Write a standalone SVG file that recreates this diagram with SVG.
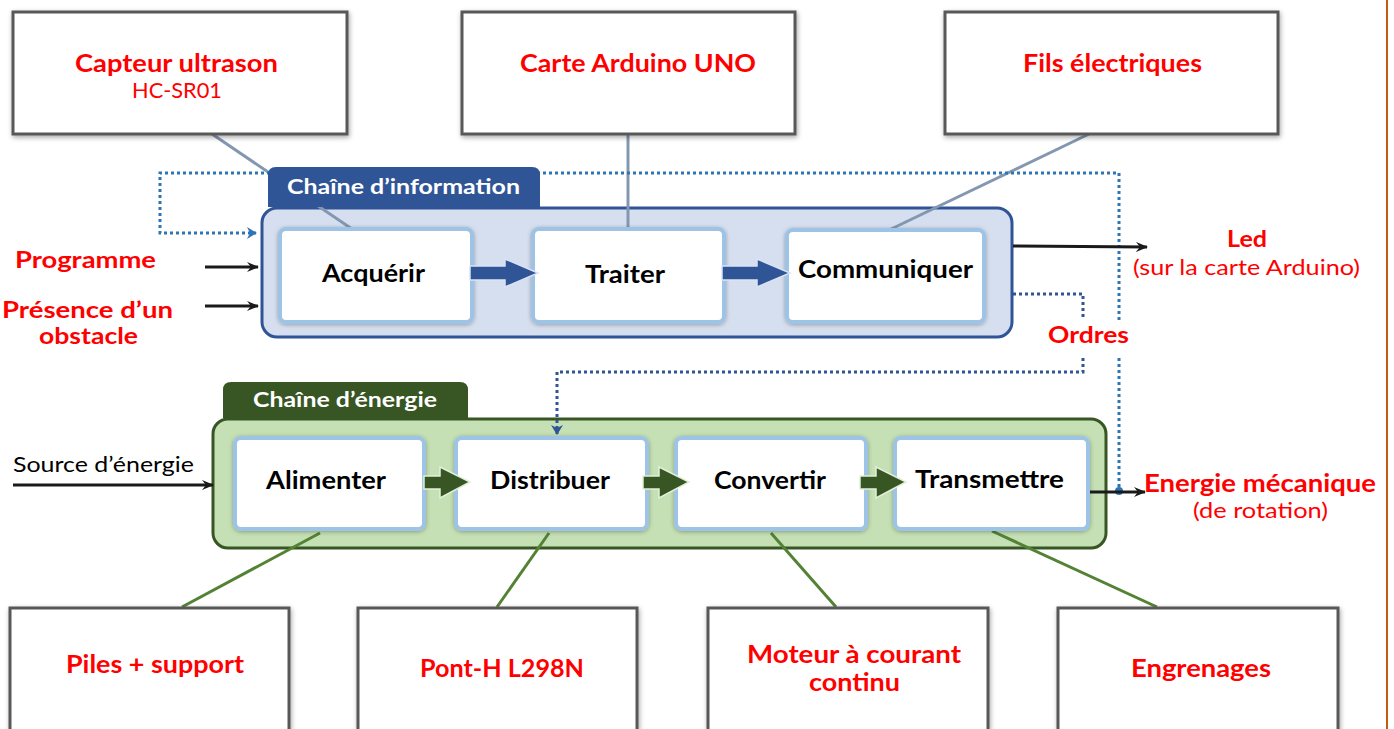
<svg xmlns="http://www.w3.org/2000/svg" width="1394" height="729" viewBox="0 0 1394 729">
  <style>
    .ext { fill: #ffffff; stroke: #595959; stroke-width: 3; filter: url(#shadow); }
    .inner { fill: #ffffff; stroke: #9DC3E6; stroke-width: 4; filter: url(#soft); }
    .red-b { font-family: Lato, "Liberation Sans", sans-serif; font-weight: bold; fill: #FF0000; }
    .red-r { font-family: Lato, "Liberation Sans", sans-serif; fill: #FF0000; }
    .blk-b { font-family: Lato, "Liberation Sans", sans-serif; font-weight: bold; fill: #000000; }
    .blk-r { font-family: Lato, "Liberation Sans", sans-serif; fill: #000000; }
    .tab-t { font-family: Lato, "Liberation Sans", sans-serif; font-weight: bold; fill: #ffffff; }
    .link-info { stroke: #8497B0; stroke-width: 3; fill: none; }
    .link-nrj { stroke: #548235; stroke-width: 3; fill: none; }
    .feed { stroke: #2E75B6; stroke-width: 3; fill: none; stroke-dasharray: 3 3; }
    .order { stroke: #2F5597; stroke-width: 3; fill: none; stroke-dasharray: 3 3; }
    .flow { stroke: #1a1a1a; stroke-width: 3; fill: none; marker-end: url(#blackHead); }
    .barrow { fill: #2F5597; stroke: #DAE3F3; stroke-width: 1.5; }
    .garrow { fill: #375623; stroke: #E2F0D9; stroke-width: 1.5; }
  </style>
  <defs>
    <filter id="shadow" x="-10%" y="-10%" width="120%" height="130%">
      <feDropShadow dx="1" dy="2" stdDeviation="2.5" flood-color="#000" flood-opacity="0.35"/>
    </filter>
    <filter id="soft" x="-10%" y="-10%" width="120%" height="130%">
      <feDropShadow dx="0" dy="1" stdDeviation="2" flood-color="#000" flood-opacity="0.3"/>
    </filter>
    <marker id="blackHead" viewBox="0 0 12 10" refX="11" refY="5" markerWidth="12" markerHeight="10" markerUnits="userSpaceOnUse" orient="auto">
      <path d="M0,0 L12,5 L0,10 L4,5 z" fill="#1a1a1a"/>
    </marker>
    <marker id="feedHead" viewBox="0 0 10 12" refX="9" refY="6" markerWidth="10" markerHeight="12" markerUnits="userSpaceOnUse" orient="auto">
      <path d="M0,0 L10,6 L0,12 L3,6 z" fill="#2E75B6"/>
    </marker>
    <marker id="orderHead" viewBox="0 0 10 12" refX="9" refY="6" markerWidth="10" markerHeight="12" markerUnits="userSpaceOnUse" orient="auto">
      <path d="M0,0 L10,6 L0,12 L3,6 z" fill="#2F5597"/>
    </marker>
  </defs>

  <rect width="1394" height="729" fill="#ffffff"/>
  <!-- page margin rule -->
  <line x1="1387" y1="0" x2="1387" y2="729" stroke="#C55A11" stroke-width="2"/>

  <!-- chain frames -->
  <g id="chaine-information">
    <rect x="262" y="208" width="750" height="129" rx="15" fill="#D6DFEF" stroke="#2F5597" stroke-width="3"/>
  </g>
  <g id="chaine-energie">
    <rect x="213" y="419" width="893" height="129" rx="15" fill="#C5E0B4" stroke="#375623" stroke-width="3"/>
  </g>

  <!-- links, loops and flows -->
  <g id="connectors">
    <line class="link-info" x1="212" y1="134" x2="355" y2="231"/>
    <line class="link-info" x1="628" y1="134" x2="628" y2="231"/>
    <line class="link-info" x1="1089" y1="134" x2="887" y2="231"/>
    <line class="link-nrj" x1="320" y1="533" x2="182" y2="607"/>
    <line class="link-nrj" x1="549" y1="533" x2="497" y2="607"/>
    <line class="link-nrj" x1="771" y1="533" x2="836" y2="607"/>
    <line class="link-nrj" x1="992" y1="531" x2="1157" y2="607"/>

    <!-- feedback loop -->
    <polyline class="feed" points="1119,320 1119,173 160,173 160,233 256,233" marker-end="url(#feedHead)"/>
    <line class="feed" x1="1119" y1="358" x2="1119" y2="490"/>
    <circle cx="1119" cy="491" r="4" fill="#2E75B6"/>

    <!-- orders to the energy chain -->
    <polyline class="order" points="1013,294 1083,294 1083,320"/>
    <polyline class="order" points="1083,358 1083,372 557,372 557,434" marker-end="url(#orderHead)"/>

    <!-- inputs and outputs -->
    <line class="flow" x1="205" y1="267" x2="258" y2="267"/>
    <line class="flow" x1="205" y1="306" x2="258" y2="306"/>
    <line class="flow" x1="1013" y1="246" x2="1147" y2="247"/>
    <line class="flow" x1="13" y1="485" x2="213" y2="485"/>
    <line class="flow" x1="1090" y1="492" x2="1145" y2="492"/>
  </g>

  <!-- chain title tabs -->
  <g id="tab-information">
    <path d="M268,207 L268,175 Q268,167 276,167 L532,167 Q540,167 540,175 L540,207 Z" fill="#2F5597"/>
    <text class="tab-t" x="287" y="194" font-size="21" textLength="233" lengthAdjust="spacingAndGlyphs">Chaîne d’information</text>
  </g>
  <g id="tab-energie">
    <path d="M223,418 L223,390 Q223,382 231,382 L460,382 Q468,382 468,390 L468,418 Z" fill="#375623"/>
    <text class="tab-t" x="253" y="407" font-size="21" textLength="184" lengthAdjust="spacingAndGlyphs">Chaîne d’énergie</text>
  </g>

  <!-- component boxes, top row -->
  <g id="capteur">
    <rect class="ext" x="13" y="12" width="334" height="122"/>
    <text class="red-b" x="75" y="72" font-size="25" textLength="203" lengthAdjust="spacingAndGlyphs">Capteur ultrason</text>
    <text class="red-r" x="132" y="98" font-size="21" textLength="90" lengthAdjust="spacingAndGlyphs">HC-SR01</text>
  </g>
  <g id="arduino">
    <rect class="ext" x="462" y="12" width="333" height="122"/>
    <text class="red-b" x="520" y="72" font-size="25" textLength="236" lengthAdjust="spacingAndGlyphs">Carte Arduino UNO</text>
  </g>
  <g id="fils">
    <rect class="ext" x="945" y="12" width="333" height="122"/>
    <text class="red-b" x="1023" y="72" font-size="25" textLength="179" lengthAdjust="spacingAndGlyphs">Fils électriques</text>
  </g>

  <!-- information chain functions -->
  <g id="acquerir">
    <rect class="inner" x="280" y="229" width="192" height="93" rx="6"/>
    <text class="blk-b" x="322" y="282" font-size="24" textLength="103" lengthAdjust="spacingAndGlyphs">Acquérir</text>
  </g>
  <g id="traiter">
    <rect class="inner" x="533" y="229" width="191" height="93" rx="6"/>
    <text class="blk-b" x="585" y="283" font-size="24" textLength="80" lengthAdjust="spacingAndGlyphs">Traiter</text>
  </g>
  <g id="communiquer">
    <rect class="inner" x="787" y="230" width="197" height="92" rx="6"/>
    <text class="blk-b" x="798" y="278" font-size="24" textLength="175" lengthAdjust="spacingAndGlyphs">Communiquer</text>
  </g>
  <g id="info-arrows">
    <polygon class="barrow" points="470,266 505,266 505,259 538,273 505,287 505,280 470,280"/>
    <polygon class="barrow" points="722,266 757,266 757,259 790,273 757,287 757,280 722,280"/>
  </g>

  <!-- energy chain functions -->
  <g id="alimenter">
    <rect class="inner" x="235" y="438" width="189" height="91" rx="6"/>
    <text class="blk-b" x="266" y="489" font-size="24" textLength="120" lengthAdjust="spacingAndGlyphs">Alimenter</text>
  </g>
  <g id="distribuer">
    <rect class="inner" x="456" y="438" width="191" height="91" rx="6"/>
    <text class="blk-b" x="490" y="489" font-size="24" textLength="120" lengthAdjust="spacingAndGlyphs">Distribuer</text>
  </g>
  <g id="convertir">
    <rect class="inner" x="676" y="438" width="190" height="91" rx="6"/>
    <text class="blk-b" x="714" y="489" font-size="24" textLength="112" lengthAdjust="spacingAndGlyphs">Convertir</text>
  </g>
  <g id="transmettre">
    <rect class="inner" x="895" y="438" width="193" height="91" rx="6"/>
    <text class="blk-b" x="915" y="488" font-size="24" textLength="149" lengthAdjust="spacingAndGlyphs">Transmettre</text>
  </g>
  <g id="energy-arrows">
    <polygon class="garrow" points="424,476 440,476 440,467 470,482 440,498 440,489 424,489"/>
    <polygon class="garrow" points="643,476 659,476 659,467 689,482 659,498 659,489 643,489"/>
    <polygon class="garrow" points="860,476 876,476 876,467 906,482 876,498 876,489 860,489"/>
  </g>

  <!-- inputs / outputs labels -->
  <g id="programme">
    <text class="red-b" x="15" y="268" font-size="23" textLength="141" lengthAdjust="spacingAndGlyphs">Programme</text>
  </g>
  <g id="obstacle">
    <text class="red-b" x="2" y="318" font-size="22" textLength="171" lengthAdjust="spacingAndGlyphs">Présence d’un</text>
    <text class="red-b" x="39" y="344" font-size="22" textLength="99" lengthAdjust="spacingAndGlyphs">obstacle</text>
  </g>
  <g id="led">
    <text class="red-b" x="1227" y="247" font-size="23" textLength="40" lengthAdjust="spacingAndGlyphs">Led</text>
    <text class="red-r" x="1133" y="275" font-size="21" textLength="227" lengthAdjust="spacingAndGlyphs">(sur la carte Arduino)</text>
  </g>
  <g id="ordres">
    <text class="red-b" x="1048" y="343" font-size="23" textLength="81" lengthAdjust="spacingAndGlyphs">Ordres</text>
  </g>
  <g id="source">
    <text class="blk-r" x="13" y="472" font-size="21" textLength="181" lengthAdjust="spacingAndGlyphs">Source d’énergie</text>
  </g>
  <g id="energie-mecanique">
    <text class="red-b" x="1144" y="492" font-size="24" textLength="232" lengthAdjust="spacingAndGlyphs">Energie mécanique</text>
    <text class="red-r" x="1193" y="518" font-size="21" textLength="135" lengthAdjust="spacingAndGlyphs">(de rotation)</text>
  </g>

  <!-- component boxes, bottom row -->
  <g id="piles">
    <rect class="ext" x="10" y="608" width="279" height="140"/>
    <text class="red-b" x="66" y="673" font-size="25" textLength="178" lengthAdjust="spacingAndGlyphs">Piles + support</text>
  </g>
  <g id="pont-h">
    <rect class="ext" x="358" y="608" width="279" height="140"/>
    <text class="red-b" x="420" y="677" font-size="25" textLength="164" lengthAdjust="spacingAndGlyphs">Pont-H L298N</text>
  </g>
  <g id="moteur">
    <rect class="ext" x="708" y="608" width="280" height="140"/>
    <text class="red-b" x="747" y="663" font-size="24" textLength="214" lengthAdjust="spacingAndGlyphs">Moteur à courant</text>
    <text class="red-b" x="809" y="691" font-size="24" textLength="91" lengthAdjust="spacingAndGlyphs">continu</text>
  </g>
  <g id="engrenages">
    <rect class="ext" x="1058" y="608" width="280" height="140"/>
    <text class="red-b" x="1131" y="677" font-size="25" textLength="140" lengthAdjust="spacingAndGlyphs">Engrenages</text>
  </g>
</svg>
